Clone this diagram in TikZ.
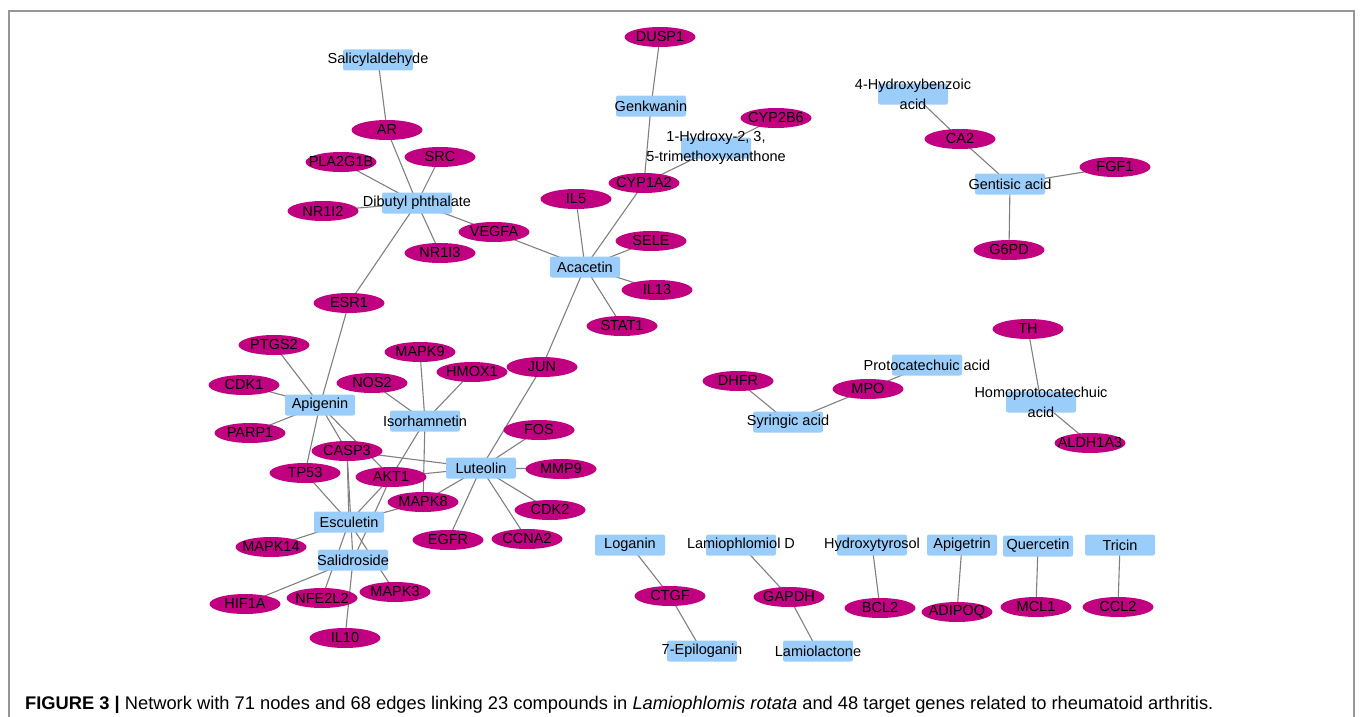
\documentclass[tikz,border=0pt]{standalone}
\usepackage{fontspec}
\setmainfont{Liberation Sans}
\usetikzlibrary{shapes.geometric}
\pgfdeclarelayer{bg}
\pgfsetlayers{bg,main}
\definecolor{boxc}{RGB}{155,205,250}
\definecolor{genec}{RGB}{192,0,128}
\definecolor{edgec}{RGB}{128,128,128}
\definecolor{framec}{RGB}{150,150,150}
\begin{document}
\begin{tikzpicture}[x=1pt,y=-1pt,
  lbl/.style={font=\fontsize{14.5}{20}\selectfont, text=black, inner sep=0pt, align=center},
  cbox/.style={rectangle, fill=boxc, rounded corners=2pt, minimum width=70pt, minimum height=21pt, inner sep=0pt, label={[lbl]center:#1}},
  gene/.style={ellipse, fill=genec, minimum width=71pt, minimum height=20pt, inner sep=0pt, label={[lbl]center:#1}},
  edge/.style={draw=edgec, line width=1.1pt}]
\useasboundingbox (0,0) rectangle (1360,717);
% frame
\coordinate (f1) at (9,717);
\coordinate (f2) at (9,11);
\coordinate (f3) at (1354,11);
\coordinate (f4) at (1354,717);
\draw[framec, line width=1.5pt] (f1) -- (f2) -- (f3) -- (f4);
% compounds
\node[cbox={Salicylaldehyde}] (sal) at (378,60) {};
\node[cbox={Dibutyl phthalate}] (dbp) at (417,203) {};
\node[cbox={Genkwanin}] (gen) at (651,106) {};
\node[cbox={1-Hydroxy-2, 3,\\5-trimethoxyxanthone}] (hxx) at (716,148) {};
\node[cbox={Acacetin}] (aca) at (585,267) {};
\node[cbox={4-Hydroxybenzoic\\acid}] (hba) at (913,94) {};
\node[cbox={Gentisic acid}] (gnt) at (1010,184) {};
\node[cbox={Apigenin}] (api) at (320,405) {};
\node[cbox={Isorhamnetin}] (iso) at (425,421) {};
\node[cbox={Luteolin}] (lut) at (481,468) {};
\node[cbox={Esculetin}] (esc) at (349,522) {};
\node[cbox={Salidroside}] (sald) at (353,560) {};
\node[cbox={Syringic acid}] (syr) at (788,422) {};
\node[cbox={Protocatechuic acid}] (pro) at (927,365) {};
\node[cbox={Homoprotocatechuic\\acid}] (hpa) at (1041,402) {};
\node[cbox={Loganin}] (log) at (630,545) {};
\node[cbox={Lamiophlomiol D}] (lam) at (741,545) {};
\node[cbox={Hydroxytyrosol}] (hyd) at (872,545) {};
\node[cbox={Apigetrin}] (apg) at (962,545) {};
\node[cbox={Quercetin}] (que) at (1038,546) {};
\node[cbox={Tricin}] (tri) at (1120,545) {};
\node[cbox={7-Epiloganin}] (epi) at (702,651) {};
\node[cbox={Lamiolactone}] (lac) at (818,651) {};
% genes
\node[gene={DUSP1}] (dusp1) at (660,37) {};
\node[gene={AR}] (ar) at (387,130) {};
\node[gene={SRC}] (src) at (440,157) {};
\node[gene={PLA2G1B}] (pla) at (341,162) {};
\node[gene={NR1I2}] (nr12) at (323,211) {};
\node[gene={VEGFA}] (vegfa) at (494,232) {};
\node[gene={NR1I3}] (nr13) at (440,253) {};
\node[gene={IL5}] (il5) at (576,199) {};
\node[gene={CYP1A2}] (cyp1a2) at (644,183) {};
\node[gene={SELE}] (sele) at (651,241) {};
\node[gene={IL13}] (il13) at (657,290) {};
\node[gene={STAT1}] (stat1) at (622,326) {};
\node[gene={ESR1}] (esr1) at (349,303) {};
\node[gene={CYP2B6}] (cyp2b6) at (776,118) {};
\node[gene={CA2}] (ca2) at (960,139) {};
\node[gene={FGF1}] (fgf1) at (1115,167) {};
\node[gene={G6PD}] (g6pd) at (1009,250) {};
\node[gene={TH}] (th) at (1028,329) {};
\node[gene={DHFR}] (dhfr) at (738,381) {};
\node[gene={MPO}] (mpo) at (868,389) {};
\node[gene={ALDH1A3}] (aldh) at (1090,443) {};
\node[gene={PTGS2}] (ptgs2) at (274,345) {};
\node[gene={CDK1}] (cdk1) at (244,385) {};
\node[gene={PARP1}] (parp1) at (250,433) {};
\node[gene={MAPK9}] (mapk9) at (420,352) {};
\node[gene={NOS2}] (nos2) at (372,383) {};
\node[gene={HMOX1}] (hmox1) at (472,372) {};
\node[gene={JUN}] (jun) at (542,367) {};
\node[gene={CASP3}] (casp3) at (347,451) {};
\node[gene={TP53}] (tp53) at (305,473) {};
\node[gene={AKT1}] (akt1) at (391,477) {};
\node[gene={FOS}] (fos) at (539,430) {};
\node[gene={MMP9}] (mmp9) at (561,469) {};
\node[gene={MAPK8}] (mapk8) at (423,502) {};
\node[gene={CDK2}] (cdk2) at (550,510) {};
\node[gene={EGFR}] (egfr) at (448,540) {};
\node[gene={CCNA2}] (ccna2) at (527,539) {};
\node[gene={MAPK14}] (mapk14) at (271,547) {};
\node[gene={HIF1A}] (hif1a) at (245,604) {};
\node[gene={NFE2L2}] (nfe2l2) at (322,598) {};
\node[gene={MAPK3}] (mapk3) at (395,592) {};
\node[gene={IL10}] (il10) at (345,638) {};
\node[gene={CTGF}] (ctgf) at (670,596) {};
\node[gene={GAPDH}] (gapdh) at (789,597) {};
\node[gene={BCL2}] (bcl2) at (880,608) {};
\node[gene={ADIPOQ}] (adipoq) at (957,612) {};
\node[gene={MCL1}] (mcl1) at (1036,607) {};
\node[gene={CCL2}] (ccl2) at (1118,607) {};
% edges
\begin{pgfonlayer}{bg}
\foreach \a/\b in {sal/ar, ar/dbp, src/dbp, pla/dbp, nr12/dbp, nr13/dbp, vegfa/dbp, esr1/dbp,
  dusp1/gen, gen/cyp1a2, cyp2b6/hxx, hxx/cyp1a2,
  cyp1a2/aca, il5/aca, vegfa/aca, sele/aca, il13/aca, stat1/aca, aca/jun,
  hba/ca2, ca2/gnt, gnt/fgf1, gnt/g6pd,
  esr1/api, ptgs2/api, cdk1/api, parp1/api, api/tp53, api/casp3, api/akt1,
  casp3/esc, tp53/esc, akt1/esc, mapk8/esc, mapk14/esc, esc/mapk3, esc/nfe2l2,
  casp3/sald, akt1/sald, sald/hif1a, sald/il10,
  nos2/iso, mapk9/iso, hmox1/iso, iso/akt1, iso/mapk8,
  jun/lut, fos/lut, mmp9/lut, cdk2/lut, ccna2/lut, egfr/lut, mapk8/lut, akt1/lut, casp3/lut,
  dhfr/syr, syr/mpo, mpo/pro, th/hpa, hpa/aldh,
  log/ctgf, ctgf/epi, lam/gapdh, gapdh/lac, hyd/bcl2, apg/adipoq, que/mcl1, tri/ccl2}
  \draw[edge] (\a.center) -- (\b.center);
\end{pgfonlayer}
% caption
\node[anchor=base west, inner sep=0pt, font=\fontsize{18.3}{22}\selectfont] (cap) at (25,709)
  {\textbf{FIGURE 3 |} Network with 71 nodes and 68 edges linking 23 compounds in \textit{Lamiophlomis rotata} and 48 target genes related to rheumatoid arthritis.};
\end{tikzpicture}
\end{document}
